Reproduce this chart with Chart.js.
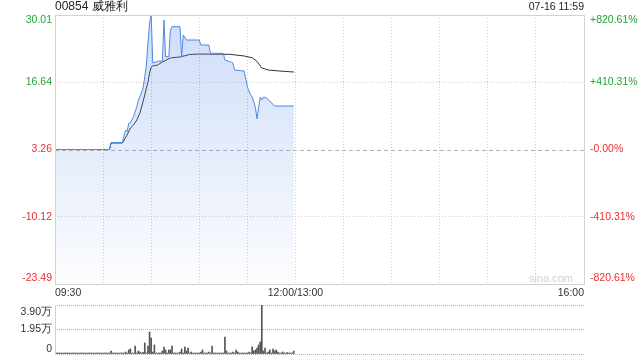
<!DOCTYPE html>
<html>
<head>
<meta charset="utf-8">
<script src="https://cdn.jsdelivr.net/npm/chart.js"></script>
<style>
  body { margin: 0; background: #fff; }
  #wrap { position: relative; width: 640px; height: 360px; }
  #priceBox { position: absolute; left: 0; top: 0; width: 640px; height: 300px; }
  #volBox { position: absolute; left: 0; top: 300px; width: 640px; height: 60px; }
</style>
</head>
<body>
<div id="wrap">
  <div id="priceBox"><canvas id="priceChart"></canvas></div>
  <div id="volBox"><canvas id="volChart"></canvas></div>
</div>
<script>
"use strict"

// --- data ---
const stockTitle = '00854 威雅利';
const stampText = '07-16 11:59';
const prevClose = 3.26;
const priceTicks = [30.01, 16.64, 3.26, -10.12, -23.49];
const pctLabels = ['+820.61%', '+410.31%', '-0.00%', '-410.31%', '-820.61%'];

// minutes since 09:30 (lunch break removed), 330 = 16:00
const gridMinutes = [0, 30, 60, 90, 120, 150, 180, 210, 240, 270, 300, 330];
const xLabelMinutes = [0, 150, 330];
const xLabels = ['09:30', '12:00/13:00', '16:00'];

const priceMinutes = [0, 34, 35, 42, 44, 45, 46, 47, 49, 51, 52, 53, 55, 56, 57, 58, 59, 60, 61,
  65, 67, 68, 69, 71, 72, 73, 78, 79, 80, 82, 90, 91, 96, 97, 105, 106, 109, 110, 111, 112,
  118, 120, 122, 123, 125, 126, 127, 128, 129, 130, 132, 134, 137, 149];
const prices = [3.26, 3.26, 4.65, 4.65, 7.14, 6.80, 8.47, 8.53, 9.78, 11.77, 13.11, 13.76, 15.49, 17.74, 20.07, 24.44, 28.42, 30.01, 20.46,
  20.86, 20.86, 29.0, 21.72, 21.72, 27.0, 27.68, 27.68, 21.7, 26.03, 25.04, 25.04, 24.04, 24.04, 22.39, 22.39, 21.06, 20.72, 20.66, 20.46, 19.07,
  18.87, 15.69, 14.1, 13.7, 11.7, 9.33, 11.5, 13.7, 13.1, 13.7, 13.5, 12.9, 11.9, 11.9];

const avgMinutes = [0, 34, 35, 42, 45, 47, 49, 51, 53, 54, 56, 57, 58, 59, 60, 61, 64, 67, 72, 78,
  84, 90, 109, 118, 123, 126, 129, 133, 140, 149];
const avgPrices = [3.26, 3.26, 4.55, 4.55, 6.14, 7.54, 8.13, 9.13, 10.52, 11.71, 14.1, 15.49, 16.68, 18.47, 19.67, 19.87, 20.07, 20.66, 21.46, 21.66,
  22.15, 22.25, 22.19, 21.86, 21.5, 20.8, 19.47, 19.07, 18.87, 18.67];

// one value per minute, 09:30 .. 11:59
const volumes = [
  700, 700, 700, 700, 700, 700, 700, 700, 700, 700,
  700, 700, 700, 700, 700, 700, 700, 700, 700, 700,
  700, 700, 700, 700, 700, 700, 700, 700, 700, 700,
  700, 700, 700, 700, 700, 2400, 700, 700, 700, 700,
  700, 700, 700, 700, 1600, 700, 3200, 4000, 700, 700,
  6400, 700, 2400, 1600, 700, 1300, 8800, 700, 6400, 17500,
  12700, 1600, 7200, 700, 800, 400, 700, 2400, 5600, 3200,
  700, 3200, 3200, 6400, 700, 700, 700, 700, 1600, 4000,
  700, 5600, 2400, 4800, 700, 1600, 700, 400, 700, 700,
  700, 1600, 3200, 700, 700, 700, 1600, 700, 6400, 700,
  400, 700, 700, 700, 700, 700, 13500, 2400, 700, 700,
  700, 1600, 700, 3200, 1600, 700, 700, 700, 400, 700,
  700, 1600, 700, 5600, 2400, 3200, 4800, 7200, 9600, 39000,
  2400, 4800, 700, 1600, 3200, 700, 4000, 2400, 3200, 1600,
  700, 700, 1600, 700, 700, 1200, 700, 700, 700, 2400
];
const volTicks = [39000, 19500, 0];
const volLabels = ['3.90万', '1.95万', '0'];

const green = '#22a533';
const red = '#ee2e2e';
const font = '10.5px "Liberation Sans", Arial, sans-serif';

const priceLabels = {
  id: 'priceLabels',
  beforeDatasetsDraw(chart) {
    // previous close line: longer dashes, a bit darker
    const ctx = chart.ctx;
    const area = chart.chartArea;
    const py = Math.round(chart.scales.y.getPixelForValue(prevClose)) + 0.5;
    ctx.save();
    ctx.strokeStyle = '#b0b0b0';
    ctx.lineWidth = 1;
    ctx.setLineDash([4, 3]);
    ctx.beginPath();
    ctx.moveTo(area.left, py);
    ctx.lineTo(area.right, py);
    ctx.stroke();
    ctx.restore();
  },
  afterDraw(chart) {
    const ctx = chart.ctx;
    const area = chart.chartArea;
    const xs = chart.scales.x;
    const ys = chart.scales.y;
    ctx.save();
    ctx.strokeStyle = '#d2d2d2';
    ctx.lineWidth = 1;
    ctx.strokeRect(area.left + 0.5, area.top + 0.5, area.right - area.left, area.bottom - area.top);

    ctx.font = font;
    ctx.textBaseline = 'middle';
    for (let i = 0; i < priceTicks.length; i++) {
      let py = ys.getPixelForValue(priceTicks[i]);
      if (i === 0) py += 5.5;
      if (i === priceTicks.length - 1) py -= 5.5;
      ctx.fillStyle = priceTicks[i] > prevClose ? green : red;
      ctx.textAlign = 'right';
      ctx.fillText(priceTicks[i].toFixed(2), area.left - 3, py);
      ctx.textAlign = 'left';
      ctx.fillText(pctLabels[i], area.right + 6, py);
    }

    ctx.fillStyle = '#333';
    const aligns = ['left', 'center', 'right'];
    for (let i = 0; i < xLabelMinutes.length; i++) {
      ctx.textAlign = aligns[i];
      ctx.fillText(xLabels[i], xs.getPixelForValue(xLabelMinutes[i]), area.bottom + 9);
    }

    ctx.fillStyle = '#222';
    ctx.textAlign = 'left';
    ctx.font = '12px "Liberation Sans", Arial, sans-serif';
    ctx.fillText(stockTitle, area.left, 7);
    ctx.font = font;
    ctx.textAlign = 'right';
    ctx.fillText(stampText, area.right, 7);

    ctx.fillStyle = '#cfcfcf';
    ctx.font = '11px "Liberation Sans", Arial, sans-serif';
    ctx.fillText('sina.com', area.right - 11, area.bottom - 5);
    ctx.restore();
  }
};

const volLabelsPlugin = {
  id: 'volLabels',
  afterDraw(chart) {
    const ctx = chart.ctx;
    const area = chart.chartArea;
    const ys = chart.scales.y;
    ctx.save();
    ctx.strokeStyle = '#d2d2d2';
    ctx.lineWidth = 1;
    ctx.beginPath();
    ctx.moveTo(area.left + 0.5, area.top);
    ctx.lineTo(area.left + 0.5, area.bottom + 1);
    ctx.stroke();
    ctx.font = font;
    ctx.textBaseline = 'middle';
    ctx.textAlign = 'right';
    ctx.fillStyle = '#333';
    for (let i = 0; i < volTicks.length; i++) {
      let py = ys.getPixelForValue(volTicks[i]);
      if (i === 0) py += 7;
      if (i === volTicks.length - 1) py -= 5;
      ctx.fillText(volLabels[i], area.left - 3, py);
    }
    ctx.restore();
  }
};

let priceChart = new Chart(document.getElementById('priceChart').getContext('2d'), {
  type: 'line',
  data: {
    datasets: [{
      label: 'price',
      data: priceMinutes.map((m, i) => ({ x: m, y: prices[i] })),
      borderColor: '#5089e2',
      borderWidth: 1,
      pointRadius: 0,
      tension: 0,
      fill: 'start',
      backgroundColor: function (context) {
        const area = context.chart.chartArea;
        if (!area) return 'rgba(0,0,0,0)';
        const g = context.chart.ctx.createLinearGradient(0, area.top, 0, area.bottom);
        g.addColorStop(0, 'rgba(90,140,230,0.30)');
        g.addColorStop(1, 'rgba(90,140,230,0.02)');
        return g;
      }
    }, {
      label: 'avg',
      data: avgMinutes.map((m, i) => ({ x: m, y: avgPrices[i] })),
      borderColor: '#333',
      borderWidth: 1,
      pointRadius: 0,
      tension: 0,
      fill: false
    }]
  },
  options: {
    animation: false,
    responsive: true,
    maintainAspectRatio: false,
    devicePixelRatio: 1,
    layout: { padding: { left: 55, right: 56, top: 15, bottom: 16 } },
    plugins: { legend: { display: false }, tooltip: { enabled: false } },
    scales: {
      x: {
        type: 'linear', min: 0, max: 330,
        afterBuildTicks: s => { s.ticks = gridMinutes.map(v => ({ value: v })); },
        ticks: { display: false },
        grid: { color: '#cdcdcd', drawTicks: false },
        border: { display: false, dash: [1, 2] }
      },
      y: {
        min: -23.49, max: 30.01,
        afterBuildTicks: s => { s.ticks = priceTicks.map(v => ({ value: v })); },
        ticks: { display: false },
        grid: {
          color: c => (c.tick && c.tick.value === prevClose) ? 'rgba(0,0,0,0)' : '#cdcdcd',
          drawTicks: false
        },
        border: { display: false, dash: [1, 2] }
      }
    }
  },
  plugins: [priceLabels]
});

let volChart = new Chart(document.getElementById('volChart').getContext('2d'), {
  type: 'bar',
  data: {
    datasets: [{
      label: 'volume',
      data: volumes.map((v, i) => ({ x: i, y: v })),
      backgroundColor: '#555',
      barThickness: 1,
      minBarLength: 1
    }]
  },
  options: {
    animation: false,
    responsive: true,
    maintainAspectRatio: false,
    devicePixelRatio: 1,
    layout: { padding: { left: 55, right: 56, top: 5, bottom: 6 } },
    plugins: { legend: { display: false }, tooltip: { enabled: false } },
    scales: {
      x: {
        type: 'linear', min: 0, max: 330, offset: false,
        ticks: { display: false, padding: 0 },
        grid: { display: false, drawTicks: false, offset: false },
        border: { display: false }
      },
      y: {
        min: 0, max: 39000,
        afterBuildTicks: s => { s.ticks = volTicks.map(v => ({ value: v })); },
        ticks: { display: false, padding: 0 },
        grid: { color: '#b0b0b0', drawTicks: false },
        border: { display: false, dash: [1, 1] }
      }
    }
  },
  plugins: [volLabelsPlugin]
});
</script>
</body>
</html>
